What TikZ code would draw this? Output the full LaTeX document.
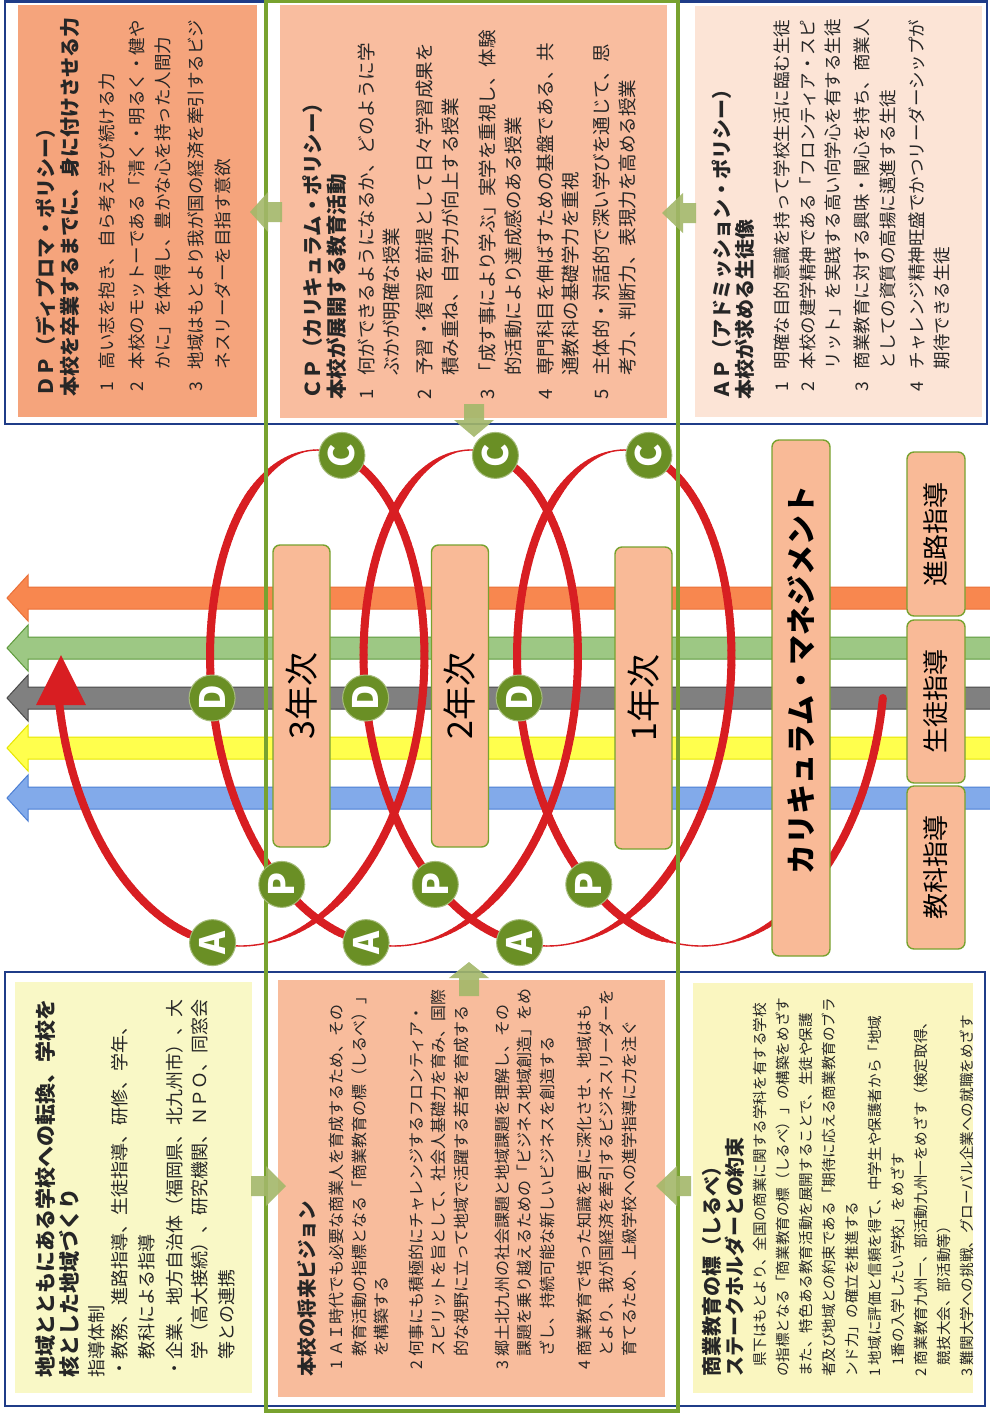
\documentclass[tikz,border=0pt]{standalone}
\usepackage{fontspec}
\setmainfont{Noto Sans CJK JP}
\definecolor{navy}{HTML}{1F3C88}
\definecolor{olivefr}{HTML}{78A22F}
\definecolor{pdcafill}{HTML}{6A8F25}
\definecolor{redsp}{HTML}{D81E22}
\definecolor{dpfill}{HTML}{F5A47C}
\definecolor{cpfill}{HTML}{F9BD9F}
\definecolor{apfill}{HTML}{FCE4D6}
\definecolor{yelfill}{HTML}{F9F8C6}
\definecolor{visfill}{HTML}{F8BC9C}
\definecolor{shfill}{HTML}{FAF6C0}
\definecolor{yrfill}{HTML}{F9BA97}
\definecolor{garrow}{HTML}{A3B86A}
\definecolor{bandO}{HTML}{F8874F}\definecolor{bandOd}{HTML}{EA7038}
\definecolor{bandG}{HTML}{9DC884}\definecolor{bandGd}{HTML}{5E9A3C}
\definecolor{bandK}{HTML}{808080}\definecolor{bandKd}{HTML}{4A4A4A}
\definecolor{bandY}{HTML}{FFFF4D}\definecolor{bandYd}{HTML}{E6E600}
\definecolor{bandB}{HTML}{82AAEA}\definecolor{bandBd}{HTML}{4C7FD4}
\newcommand{\numb}[2][1.3em]{\makebox[#1][l]{#2}}
\newcommand{\ttl}[2][20]{{\bfseries\fontsize{#1}{#1}\selectfont #2}}
\tikzset{
  txt/.style={rotate=90, anchor=north west, inner sep=0pt, align=left, text=black!85},
  roundbox/.style={draw=olivefr, fill=yrfill, line width=1.4pt, rounded corners=7pt, rotate=90, inner sep=0pt},
  pdca/.style={circle, fill=pdcafill, draw=pdcafill!60!white, line width=1pt, minimum size=46pt,
     inner sep=0pt, text=white, rotate=90, font=\bfseries\fontsize{35}{35}\selectfont},
  garr/.style={fill=garrow, opacity=0.9}
}
\begin{document}
\begin{tikzpicture}[x=1pt,y=-1pt]
\useasboundingbox (0,0) rectangle (989,1414);
\fill[white] (0,0) rectangle (989,1414);
% navy frames
\draw[navy, line width=2.2pt] (5,1.5) rectangle (987,424);
\draw[navy, line width=2.2pt] (5,972) rectangle (985,1406);
% box fills
\fill[dpfill] (18,5) rectangle (257,417);
\fill[cpfill] (280,5) rectangle (667,418);
\fill[apfill] (695,6) rectangle (982,417);
\fill[yelfill] (15,982) rectangle (252,1393);
\fill[visfill] (278,980) rectangle (665,1397);
\fill[shfill] (693,983) rectangle (973,1393);
% bands
\foreach \yy/\fc/\dc in {598/bandO/bandOd, 648/bandG/bandGd, 698/bandK/bandKd, 748/bandY/bandYd, 798/bandB/bandBd}{
  \filldraw[fill=\fc, draw=\dc, line width=1pt] (991,\yy-11) -- (28,\yy-11) -- (28,\yy-23) -- (7,\yy) -- (28,\yy+23) -- (28,\yy+11) -- (991,\yy+11);
}
% red spiral
\foreach \i in {0,...,732}{%
  \pgfmathsetmacro{\ta}{-1.5708+0.03*\i}%
  \pgfmathsetmacro{\tb}{\ta+0.03}%
  \pgfmathsetmacro{\xa}{701-24.43*\ta-143.5*sin(deg(\ta))}%
  \pgfmathsetmacro{\ya}{698+248*cos(deg(\ta))}%
  \pgfmathsetmacro{\xb}{701-24.43*\tb-143.5*sin(deg(\tb))}%
  \pgfmathsetmacro{\yb}{698+248*cos(deg(\tb))}%
  \pgfmathsetmacro{\ph}{mod(\ta+0.015+12.56637,6.28319)}%
  \pgfmathsetmacro{\uu}{ifthenelse(\ph<0.167,0.167-\ph,ifthenelse(\ph<3.35,3.35-\ph,6.45019-\ph))}%
  \pgfmathsetmacro{\vv}{ifthenelse(\ph<0.167,\ph+2.93319,ifthenelse(\ph<3.35,\ph-0.167,\ph-3.35))}%
  \pgfmathsetmacro{\ww}{1.4+6.6*min(1,max(0,(\uu-0.32)/0.5))*min(1,\vv/0.15)}%
  \draw[redsp, line cap=round, line width=\ww pt] (\xa,\ya) -- (\xb,\yb);
}
\fill[redsp] (36,705) -- (61,655) -- (86,705) -- cycle;
% green frame
\draw[olivefr, line width=4pt] (266,1) rectangle (678,1411);
% year boxes
\node[roundbox, minimum width=302pt, minimum height=57pt, font=\fontsize{34}{34}\selectfont] (y3) at (301.5,696) {3年次};
\node[roundbox, minimum width=302pt, minimum height=57pt, font=\fontsize{34}{34}\selectfont] (y2) at (460,696) {2年次};
\node[roundbox, minimum width=302pt, minimum height=57pt, font=\fontsize{34}{34}\selectfont] (y1) at (643.5,698) {1年次};
% management boxes
\node[roundbox, minimum width=516pt, minimum height=58pt, font=\bfseries\fontsize{30}{30}\selectfont] (cm) at (801,698) {\hspace*{36pt}カリキュラム・マネジメント};
\node[roundbox, minimum width=164pt, minimum height=58pt, font=\fontsize{26}{26}\selectfont] (sr) at (936,534) {進路指導};
\node[roundbox, minimum width=163pt, minimum height=58pt, font=\fontsize{26}{26}\selectfont] (st) at (936,701.5) {生徒指導};
\node[roundbox, minimum width=163pt, minimum height=58pt, font=\fontsize{26}{26}\selectfont] (kk) at (936,867.5) {教科指導};
% PDCA circles
\node[pdca] (P1) at (588.8,884.4) {P};
\node[pdca] (D1) at (519.1,698) {D};
\node[pdca] (C1) at (648.9,455.4) {C};
\node[pdca] (A1) at (519.6,942.6) {A};
\node[pdca] (P2) at (435.3,884.4) {P};
\node[pdca] (D2) at (365.6,698) {D};
\node[pdca] (C2) at (495.4,455.4) {C};
\node[pdca] (A2) at (366.1,942.6) {A};
\node[pdca] (P3) at (281.8,884.4) {P};
\node[pdca] (D3) at (212.1,698) {D};
\node[pdca] (C3) at (341.9,455.4) {C};
\node[pdca] (A3) at (212.6,942.6) {A};
% small green arrows
\fill[garr] (282,202) -- (268,202) -- (268,192) -- (250,212) -- (268,232) -- (268,222) -- (282,222) -- cycle;
\fill[garr] (696,203) -- (683,203) -- (683,193) -- (662,213) -- (683,233) -- (683,223) -- (696,223) -- cycle;
\fill[garr] (464,404) -- (464,420) -- (454,420) -- (474,437) -- (494,420) -- (484,420) -- (484,404) -- cycle;
\fill[garr] (459,996) -- (459,978) -- (449,978) -- (469,962) -- (489,978) -- (479,978) -- (479,996) -- cycle;
\fill[garr] (251,1176) -- (266,1176) -- (266,1166) -- (286,1186) -- (266,1206) -- (266,1196) -- (251,1196) -- cycle;
\fill[garr] (691,1176) -- (677,1176) -- (677,1166) -- (656,1186) -- (677,1206) -- (677,1196) -- (691,1196) -- cycle;
% DP text
\node[txt, font=\fontsize{17.5}{26}\selectfont] (dp) at (36,397) {%
\ttl{ＤＰ（ディプロマ・ポリシー）}\\[-2pt]%
\ttl{本校を卒業するまでに、身に付けさせる力}\\[10pt]%
\hspace*{5pt}\numb{1}高い志を抱き、自ら考え学び続ける力\\[4pt]%
\hspace*{5pt}\numb{2}本校のモットーである「清く・明るく・健や\\%
\hspace*{5pt}\numb{}かに」を体得し、豊かな心を持った人間力\\[7pt]%
\hspace*{5pt}\numb{3}地域はもとより我が国の経済を牽引するビジ\\[1pt]%
\hspace*{5pt}\numb{}ネスリーダーを目指す意欲};
% CP text
\node[txt, font=\fontsize{18.5}{25.5}\selectfont] (cp) at (302.75,400) {%
\ttl[20.5]{ＣＰ（カリキュラム・ポリシー）}\\[-1.5pt]%
\ttl[20.5]{本校が展開する教育活動}\\[2.7pt]%
\numb{1}何ができるようになるか、どのように学\\%
\numb{}ぶかが明確な授業\\[7.5pt]%
\numb{2}予習・復習を前提として日々学習成果を\\%
\numb{}積み重ね、自学力が向上する授業\\[12pt]%
\numb[1em]{3}「成す事により学ぶ」実学を重視し、体験\\%
\numb{}的活動により達成感のある授業\\[6.5pt]%
\numb{4}専門科目を伸ばすための基盤である、共\\%
\numb{}通教科の基礎学力を重視\\[5.5pt]%
\numb{5}主体的・対話的で深い学びを通じて、思\\[0.5pt]%
\numb{}考力、判断力、表現力を高める授業};
% AP text
\node[txt, font=\fontsize{17.5}{25.5}\selectfont] (ap) at (712,400) {%
\ttl{ＡＰ（アドミッション・ポリシー）}\\[-2.5pt]%
\ttl{本校が求める生徒像}\\[10.5pt]%
\hspace*{8pt}\numb{1}明確な目的意識を持って学校生活に臨む生徒\\%
\hspace*{8pt}\numb{2}本校の建学精神である「フロンティア・スピ\\%
\hspace*{8pt}\numb{}リット」を実践する高い向学心を有する生徒\\[3.5pt]%
\hspace*{8pt}\numb{3}商業教育に対する興味・関心を持ち、商業人\\%
\hspace*{8pt}\numb{}としての資質の高揚に邁進する生徒\\[3.5pt]%
\hspace*{8pt}\numb{4}チャレンジ精神旺盛でかつリーダーシップが\\%
\hspace*{8pt}\numb{}期待できる生徒};
% chiiki text
\node[txt, font=\fontsize{18}{26}\selectfont] (ck) at (35.5,1378) {%
\ttl[21]{地域とともにある学校への転換、学校を}\\[-2pt]%
\ttl[21]{核とした地域づくり}\\%
指導体制\\[-3pt]%
・教務、進路指導、生徒指導、研修、学年、\\[1pt]%
\hspace*{1em}教科による指導\\[2pt]%
・企業、地方自治体（福岡県、北九州市）、大\\[-1pt]%
\hspace*{1em}学（高大接続）、研究機関、ＮＰＯ、同窓会\\[1pt]%
\hspace*{1em}等との連携};
% vision text
\node[txt, font=\fontsize{16}{22.3}\selectfont] (vs) at (297.25,1377) {%
\ttl[19.5]{本校の将来ビジョン}\\[6pt]%
\hspace*{7pt}\numb[0.85em]{1}ＡＩ時代でも必要な商業人を育成するため、その\\%
\hspace*{7pt}\numb[0.85em]{}教育活動の指標となる「商業教育の標（しるべ）」\\%
\hspace*{7pt}\numb[0.85em]{}を構築する\\[13pt]%
\hspace*{7pt}\numb[0.85em]{2}何事にも積極的にチャレンジするフロンティア・\\%
\hspace*{7pt}\numb[0.85em]{}スピリットを旨として、社会人基礎力を育み、国際\\%
\hspace*{7pt}\numb[0.85em]{}的な視野に立って地域で活躍する若者を育成する\\[19pt]%
\hspace*{7pt}\numb[0.85em]{3}郷土北九州の社会課題と地域課題を理解し、その\\%
\hspace*{7pt}\numb[0.85em]{}課題を乗り越えるための「ビジネス地域創造」をめ\\%
\hspace*{7pt}\numb[0.85em]{}ざし、持続可能な新しいビジネスを創造する\\[15pt]%
\hspace*{7pt}\numb[0.85em]{4}商業教育で培った知識を更に深化させ、地域はも\\%
\hspace*{7pt}\numb[0.85em]{}とより、我が国経済を牽引するビジネスリーダーを\\%
\hspace*{7pt}\numb[0.85em]{}育てるため、上級学校への進学指導に力を注ぐ};
% shirube text
\node[txt, font=\fontsize{14.6}{23}\selectfont] (sb) at (702,1377) {%
\ttl{商業教育の標（しるべ）}\\%
\ttl{ステークホルダーとの約束}\\%
\hspace*{10pt}県下はもとより、全国の商業に関する学科を有する学校\\%
の指標となる「商業教育の標（しるべ）」の構築をめざす\\%
また、特色ある教育活動を展開することで、生徒や保護\\%
者及び地域との約束である「期待に応える商業教育のブラ\\%
ンド力」の確立を推進する\\%
\numb[0.8em]{1}地域に評価と信頼を得て、中学生や保護者から「地域\\%
\numb[0.8em]{}1番の入学したい学校」をめざす\\%
\numb[0.8em]{2}商業教育九州一、部活動九州一をめざす（検定取得、\\%
\numb[0.8em]{}競技大会、部活動等）\\%
\numb[0.8em]{3}難関大学への挑戦、グローバル企業への就職をめざす};
\end{tikzpicture}
\end{document}
